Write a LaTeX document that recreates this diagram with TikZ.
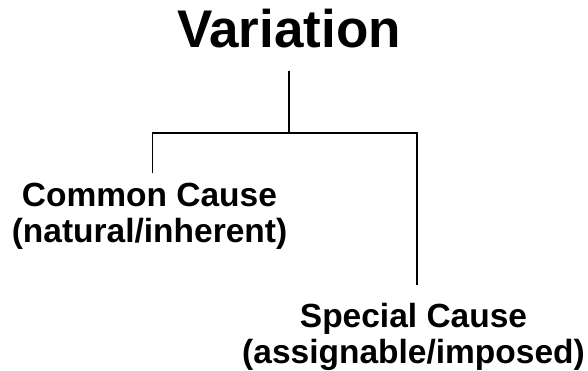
\documentclass[tikz,border=0pt]{standalone}
\usepackage{fontspec}
\setmainfont{Liberation Sans}
\begin{document}
\begin{tikzpicture}[x=1pt,y=1pt,
    branch/.style={line width=1.6pt},
    title/.style={font=\fontsize{53}{58}\selectfont\bfseries, inner sep=0pt},
    cause/.style={font=\fontsize{33.5}{36}\selectfont\bfseries, align=center, inner sep=0pt, anchor=north}]
  \useasboundingbox (0,0) rectangle (588,370);
  % labels
  \node[title, anchor=base] (title) at (289,322) {Variation};
  \node[cause] (common) at (149.5,187) {Common Cause\\(natural/inherent)};
  \node[cause] (special) at (413.5,67) {Special Cause\\(assignable/imposed)};
  % tree connectors
  \coordinate (stem) at ([yshift=-22pt]title.south);
  \coordinate (split) at (stem |- 0,237);
  \coordinate (cend) at ([xshift=3pt,yshift=10pt]common.north);
  \coordinate (send) at ([xshift=3.5pt,yshift=18pt]special.north);
  \draw[branch] (stem) -- (split);
  \draw[branch] (cend) -- (cend |- split) -| (send);
\end{tikzpicture}
\end{document}
